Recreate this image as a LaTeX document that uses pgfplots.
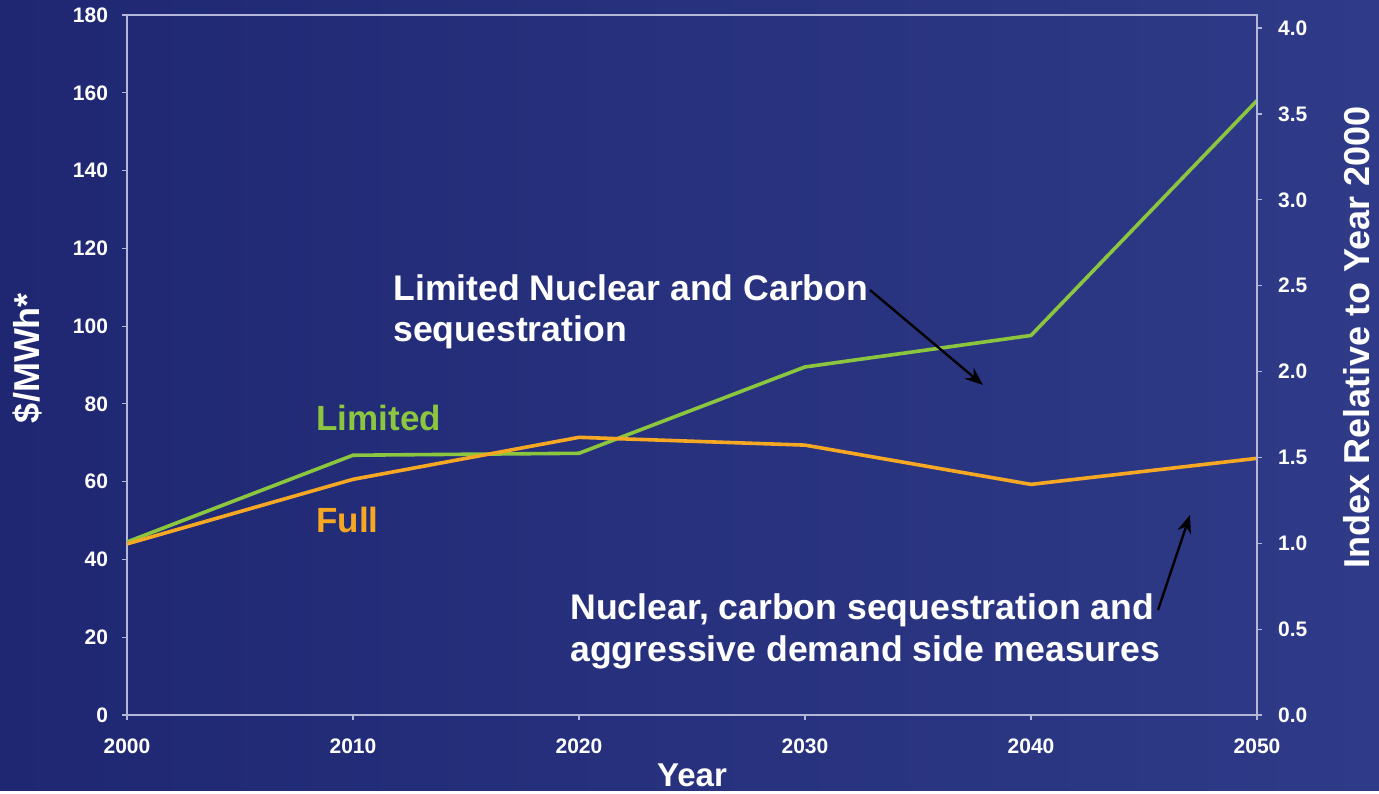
\documentclass[border=0pt]{standalone}
\usepackage{fontspec}
\setmainfont{Liberation Sans}
\usepackage{pgfplots}
\pgfplotsset{compat=1.18}
\usetikzlibrary{arrows.meta}
\definecolor{bgL}{HTML}{1F2772}
\definecolor{bgR}{HTML}{2F3B88}
\definecolor{axc}{HTML}{B4B8D8}
\definecolor{lim}{HTML}{8CC63F}
\definecolor{ful}{HTML}{F7A823}
\begin{document}
\begin{tikzpicture}[x=0.5pt,y=0.5pt]
\shade[left color=bgL,right color=bgR] (0,0) rectangle (1379,790);
\pgfplotsset{
  common/.style={
    at={(63.5pt,37.5pt)}, anchor=south west, scale only axis,
    width=565pt, height=350pt,
    xmin=2000, xmax=2050,
    tick align=outside, major tick length=2.5pt,
    tick style={axc, line width=0.6pt},
    axis line style={axc, line width=0.8pt},
    ticklabel style={white, font=\fontsize{10.5}{12}\selectfont\bfseries},
    label style={white, font=\fontsize{18}{21}\selectfont\bfseries},
    /pgf/number format/assume math mode=true,
  }
}
\begin{axis}[common,
  ymin=0, ymax=180,
  xtick={2000,2010,...,2050}, ytick={0,20,...,180},
  xtick pos=bottom, ytick pos=left,
  xticklabel style={/pgf/number format/1000 sep={}, yshift=-6pt},
  yticklabel style={xshift=-3.5pt},
  xlabel={Year},
  xlabel style={at={(axis description cs:0.5,-0.086)}, anchor=center, font=\fontsize{16.5}{19}\selectfont\bfseries},
  ylabel={\$/MWh*},
  ylabel style={at={(axis description cs:-0.0885,0.51)}, anchor=center},
]
\addplot[lim, line width=1.8pt] coordinates {(2000,44.5) (2010,66.8) (2020,67.3) (2030,89.5) (2040,97.6) (2050,158)};
\addplot[ful, line width=1.8pt] coordinates {(2000,44) (2010,60.6) (2020,71.4) (2030,69.4) (2040,59.3) (2050,66)};
\end{axis}
\begin{axis}[common,
  ymin=0, ymax=4.076,
  hide x axis,
  axis y line*=right,
  ytick={0,0.5,...,4.0},
  yticklabel style={xshift=4.5pt, /pgf/number format/fixed, /pgf/number format/fixed zerofill, /pgf/number format/precision=1},
  ylabel={Index Relative to Year 2000},
  ylabel style={at={(axis description cs:1.0885,0.539)}, anchor=center},
]
\end{axis}
\node[anchor=base west, lim, inner sep=0pt, font=\fontsize{17.5}{21}\selectfont\bfseries] at (316,360) {Limited};
\node[anchor=base west, ful, inner sep=0pt, font=\fontsize{17.5}{21}\selectfont\bfseries] at (316,258) {Full};
\node[anchor=base west, white, font=\fontsize{17.8}{21}\selectfont\bfseries, inner sep=0pt] at (393,490) {Limited Nuclear and Carbon};
\node[anchor=base west, white, font=\fontsize{17.8}{21}\selectfont\bfseries, inner sep=0pt] at (393,449) {sequestration};
\node[anchor=base west, white, font=\fontsize{17.8}{21}\selectfont\bfseries, inner sep=0pt] at (570,171) {Nuclear, carbon sequestration and};
\node[anchor=base west, white, font=\fontsize{17.8}{21}\selectfont\bfseries, inner sep=0pt] at (570,129) {aggressive demand side measures};
\draw[black, line width=1.2pt, -{Stealth[length=9pt,width=7pt]}] (870,500) -- (983,405);
\draw[black, line width=1.2pt, -{Stealth[length=9pt,width=7pt]}] (1158,180) -- (1190,275);
\end{tikzpicture}
\end{document}
